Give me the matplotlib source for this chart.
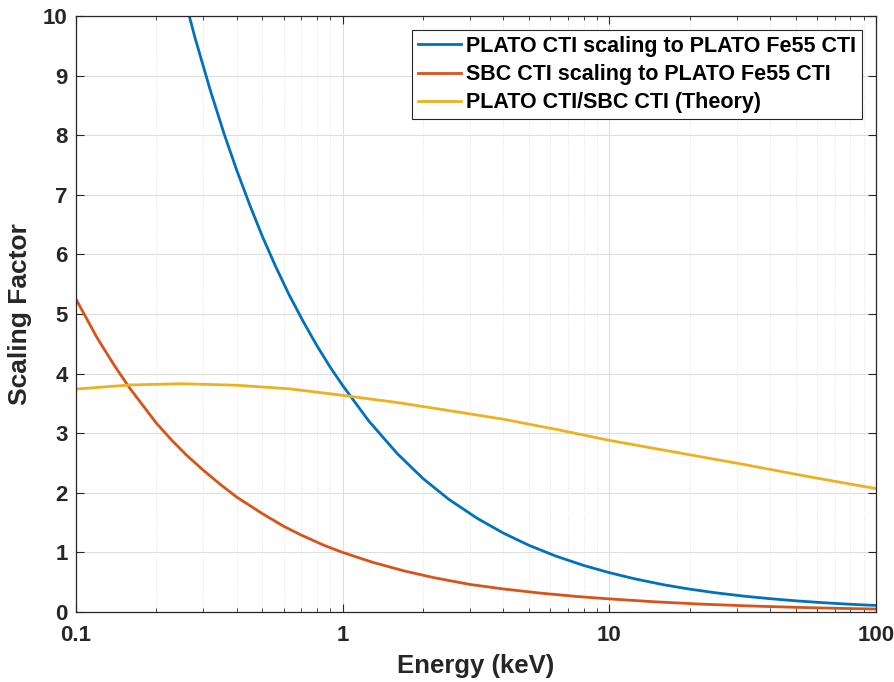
#! /usr/bin/env python3
# -*- coding: utf-8 -*-
"""CTI scaling factor versus energy (MATLAB-style line plot)."""
import matplotlib
matplotlib.use("Agg")
import matplotlib.pyplot as plt
from matplotlib.ticker import FixedLocator, LogLocator, NullFormatter

plt.rcParams["font.family"] = ["Liberation Sans", "DejaVu Sans"]
plt.rcParams["font.weight"] = "bold"

# Values
plato_energy = [0.25, 0.28, 0.32, 0.36, 0.40, 0.45, 0.50, 0.56, 0.63, 0.71,
                0.80, 0.90, 1.0, 1.25, 1.6, 2.0, 2.5, 3.2, 4.0, 5.0, 6.3,
                8.0, 10.0, 12.5, 16.0, 20.0, 25.0, 32.0, 40.0, 50.0, 63.0,
                80.0, 100.0]
plato_scale = [10.45, 9.62, 8.73, 8.01, 7.42, 6.81, 6.30, 5.80, 5.32, 4.88,
               4.47, 4.10, 3.80, 3.21, 2.66, 2.24, 1.89, 1.57, 1.325, 1.118,
               0.938, 0.782, 0.660, 0.555, 0.457, 0.384, 0.323, 0.266,
               0.224, 0.188, 0.157, 0.130, 0.110]

sbc_energy = [0.1, 0.12, 0.14, 0.16, 0.18, 0.2, 0.23, 0.26, 0.3, 0.35, 0.4,
              0.5, 0.6, 0.7, 0.85, 1.0, 1.3, 1.7, 2.2, 3.0, 4.0, 5.5, 7.5,
              10.0, 15.0, 22.0, 33.0, 50.0, 70.0, 100.0]
sbc_scale = [5.25, 4.60, 4.12, 3.74, 3.44, 3.17, 2.87, 2.63, 2.38, 2.13,
             1.93, 1.65, 1.44, 1.29, 1.12, 1.0, 0.832, 0.690, 0.576, 0.463,
             0.387, 0.318, 0.262, 0.220, 0.170, 0.133, 0.103, 0.079,
             0.063, 0.050]

theory_energy = [0.1, 0.16, 0.25, 0.4, 0.63, 1.0, 1.6, 2.5, 4.0, 6.3, 10.0,
                 18.0, 32.0, 56.0, 100.0]
theory_ratio = [3.74, 3.81, 3.83, 3.805, 3.745, 3.635, 3.515, 3.38, 3.235,
                3.065, 2.88, 2.675, 2.475, 2.27, 2.07]

series_labels = [
    "PLATO CTI scaling to PLATO Fe55 CTI",
    "SBC CTI scaling to PLATO Fe55 CTI",
    "PLATO CTI/SBC CTI (Theory)",
]
x_ticks = [0.1, 1, 10, 100]
x_tick_labels = ["0.1", "1", "10", "100"]
y_ticks = list(range(0, 11))

# MATLAB default line colours
colors = ["#0072BD", "#D95319", "#EDB120"]

fig = plt.figure(figsize=(8.94, 6.82), dpi=100)
ax = fig.add_axes([0.085, 0.1026, 0.895, 0.874])

ax.plot(plato_energy, plato_scale, color=colors[0], lw=2.0,
        label=series_labels[0])
ax.plot(sbc_energy, sbc_scale, color=colors[1], lw=2.0,
        label=series_labels[1])
ax.plot(theory_energy, theory_ratio, color=colors[2], lw=2.0,
        label=series_labels[2])

ax.set_xscale("log")
ax.set_xlim(0.1, 100)
ax.set_ylim(0, 10)
ax.xaxis.set_major_locator(FixedLocator(x_ticks))
ax.set_xticklabels(x_tick_labels)
ax.xaxis.set_minor_locator(LogLocator(base=10, subs=range(2, 10)))
ax.xaxis.set_minor_formatter(NullFormatter())
ax.set_yticks(y_ticks)

ax.grid(True, which="major", color="#dedede", lw=0.8, ls="-")
ax.grid(True, which="minor", axis="x", color="#e2e2e2", lw=0.7, ls=":")
ax.set_axisbelow(True)

ax.tick_params(which="both", direction="in", top=True, right=True,
               colors="#262626", labelsize=16)
ax.tick_params(axis="x", which="major", pad=9)
ax.tick_params(axis="y", which="major", pad=6)
ax.tick_params(which="major", length=6, width=0.8)
ax.tick_params(which="minor", length=3, width=0.6)
for spine in ax.spines.values():
    spine.set_color("#262626")
    spine.set_linewidth(0.9)

ax.set_xlabel("Energy (keV)", fontsize=18.5, fontweight="bold",
              color="#262626", labelpad=6)
ax.set_ylabel("Scaling Factor", fontsize=19, fontweight="bold",
              color="#262626", labelpad=8)

leg = ax.legend(loc="upper right", fontsize=15.5, fancybox=False,
                framealpha=1.0, edgecolor="#262626", handlelength=2.0,
                handletextpad=0.25, borderpad=0.28, labelspacing=0.33,
                borderaxespad=0.65)
leg.get_frame().set_linewidth(0.8)
for text in leg.get_texts():
    text.set_fontweight("bold")

fig.savefig("out.png", dpi=100)
